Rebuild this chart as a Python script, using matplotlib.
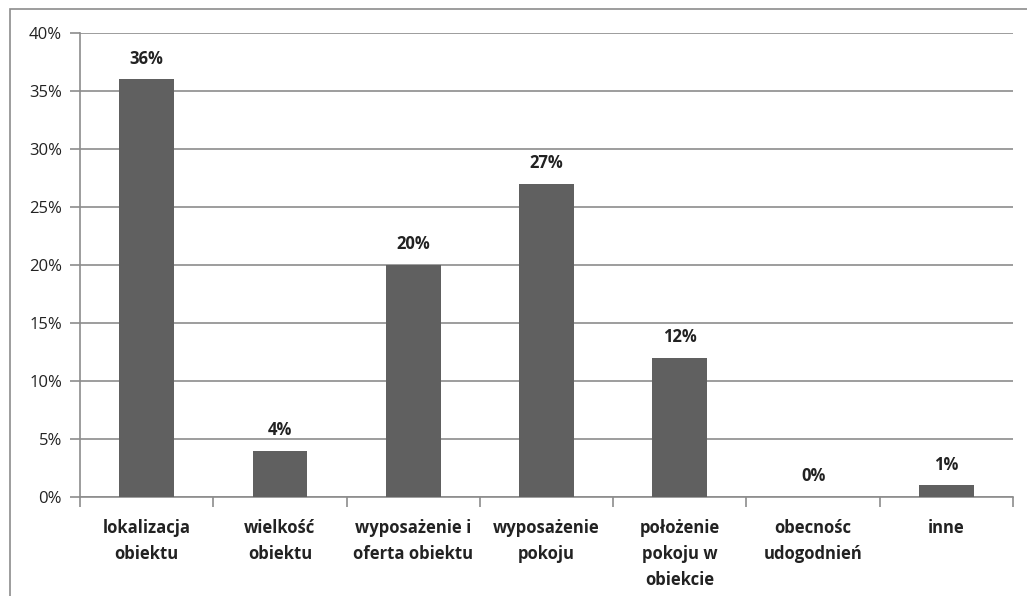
import matplotlib.pyplot as plt
from matplotlib.patches import Rectangle
from matplotlib.ticker import MultipleLocator, FuncFormatter

categories = [
    "lokalizacja\nobiektu",
    "wielkość\nobiektu",
    "wyposażenie i\noferta obiektu",
    "wyposażenie\npokoju",
    "położenie\npokoju w\nobiekcie",
    "obecnośc\nudogodnień",
    "inne",
]
shares = [36, 4, 20, 27, 12, 0, 1]

plt.rcParams["font.family"] = ["Open Sans", "DejaVu Sans"]

fig = plt.figure(figsize=(10.27, 5.96), dpi=100)
ax = fig.add_axes([0.0779, 0.1661, 0.9085, 0.7785])

# outer chart frame, partly cut off at the right and bottom
fig.patches.append(Rectangle((10 / 1027, -0.1), 1.2, 1 - 9 / 596 + 0.1,
                             transform=fig.transFigure, fill=False,
                             edgecolor="#8c8c8c", lw=1.2, zorder=0))

x = range(len(categories))
ax.bar(x, shares, width=0.41, color="#606060", zorder=3)
for xi, v in zip(x, shares):
    ax.text(xi, v + 1.0, f"{v}%", ha="center", va="bottom",
            fontsize=12, fontweight="bold", color="#222222")

ax.set_xlim(-0.5, len(categories) - 0.5)
ax.set_ylim(0, 40)
ax.yaxis.set_major_locator(MultipleLocator(5))
ax.yaxis.set_major_formatter(FuncFormatter(lambda v, _: f"{v:.0f}%"))
ax.grid(axis="y", color="#8c8c8c", lw=1.2, zorder=0)

ax.set_xticks([i + 0.5 for i in range(-1, len(categories))], minor=False)
ax.set_xticklabels([])
ax.set_xticks(list(x), minor=True)
ax.set_xticklabels(categories, minor=True, fontsize=12, fontweight="bold",
                   color="#222222", linespacing=1.55, va="top")
ax.tick_params(axis="x", which="major", length=7, color="#8c8c8c", width=1.2)
ax.tick_params(axis="x", which="minor", length=0, pad=16)
ax.tick_params(axis="y", length=7, color="#8c8c8c", width=1.2,
               labelsize=12, labelcolor="#222222", pad=6)

for side in ("top", "right"):
    ax.spines[side].set_visible(False)
for side in ("left", "bottom"):
    ax.spines[side].set_color("#8c8c8c")
    ax.spines[side].set_linewidth(1.2)

fig.savefig("out.png", dpi=100)
